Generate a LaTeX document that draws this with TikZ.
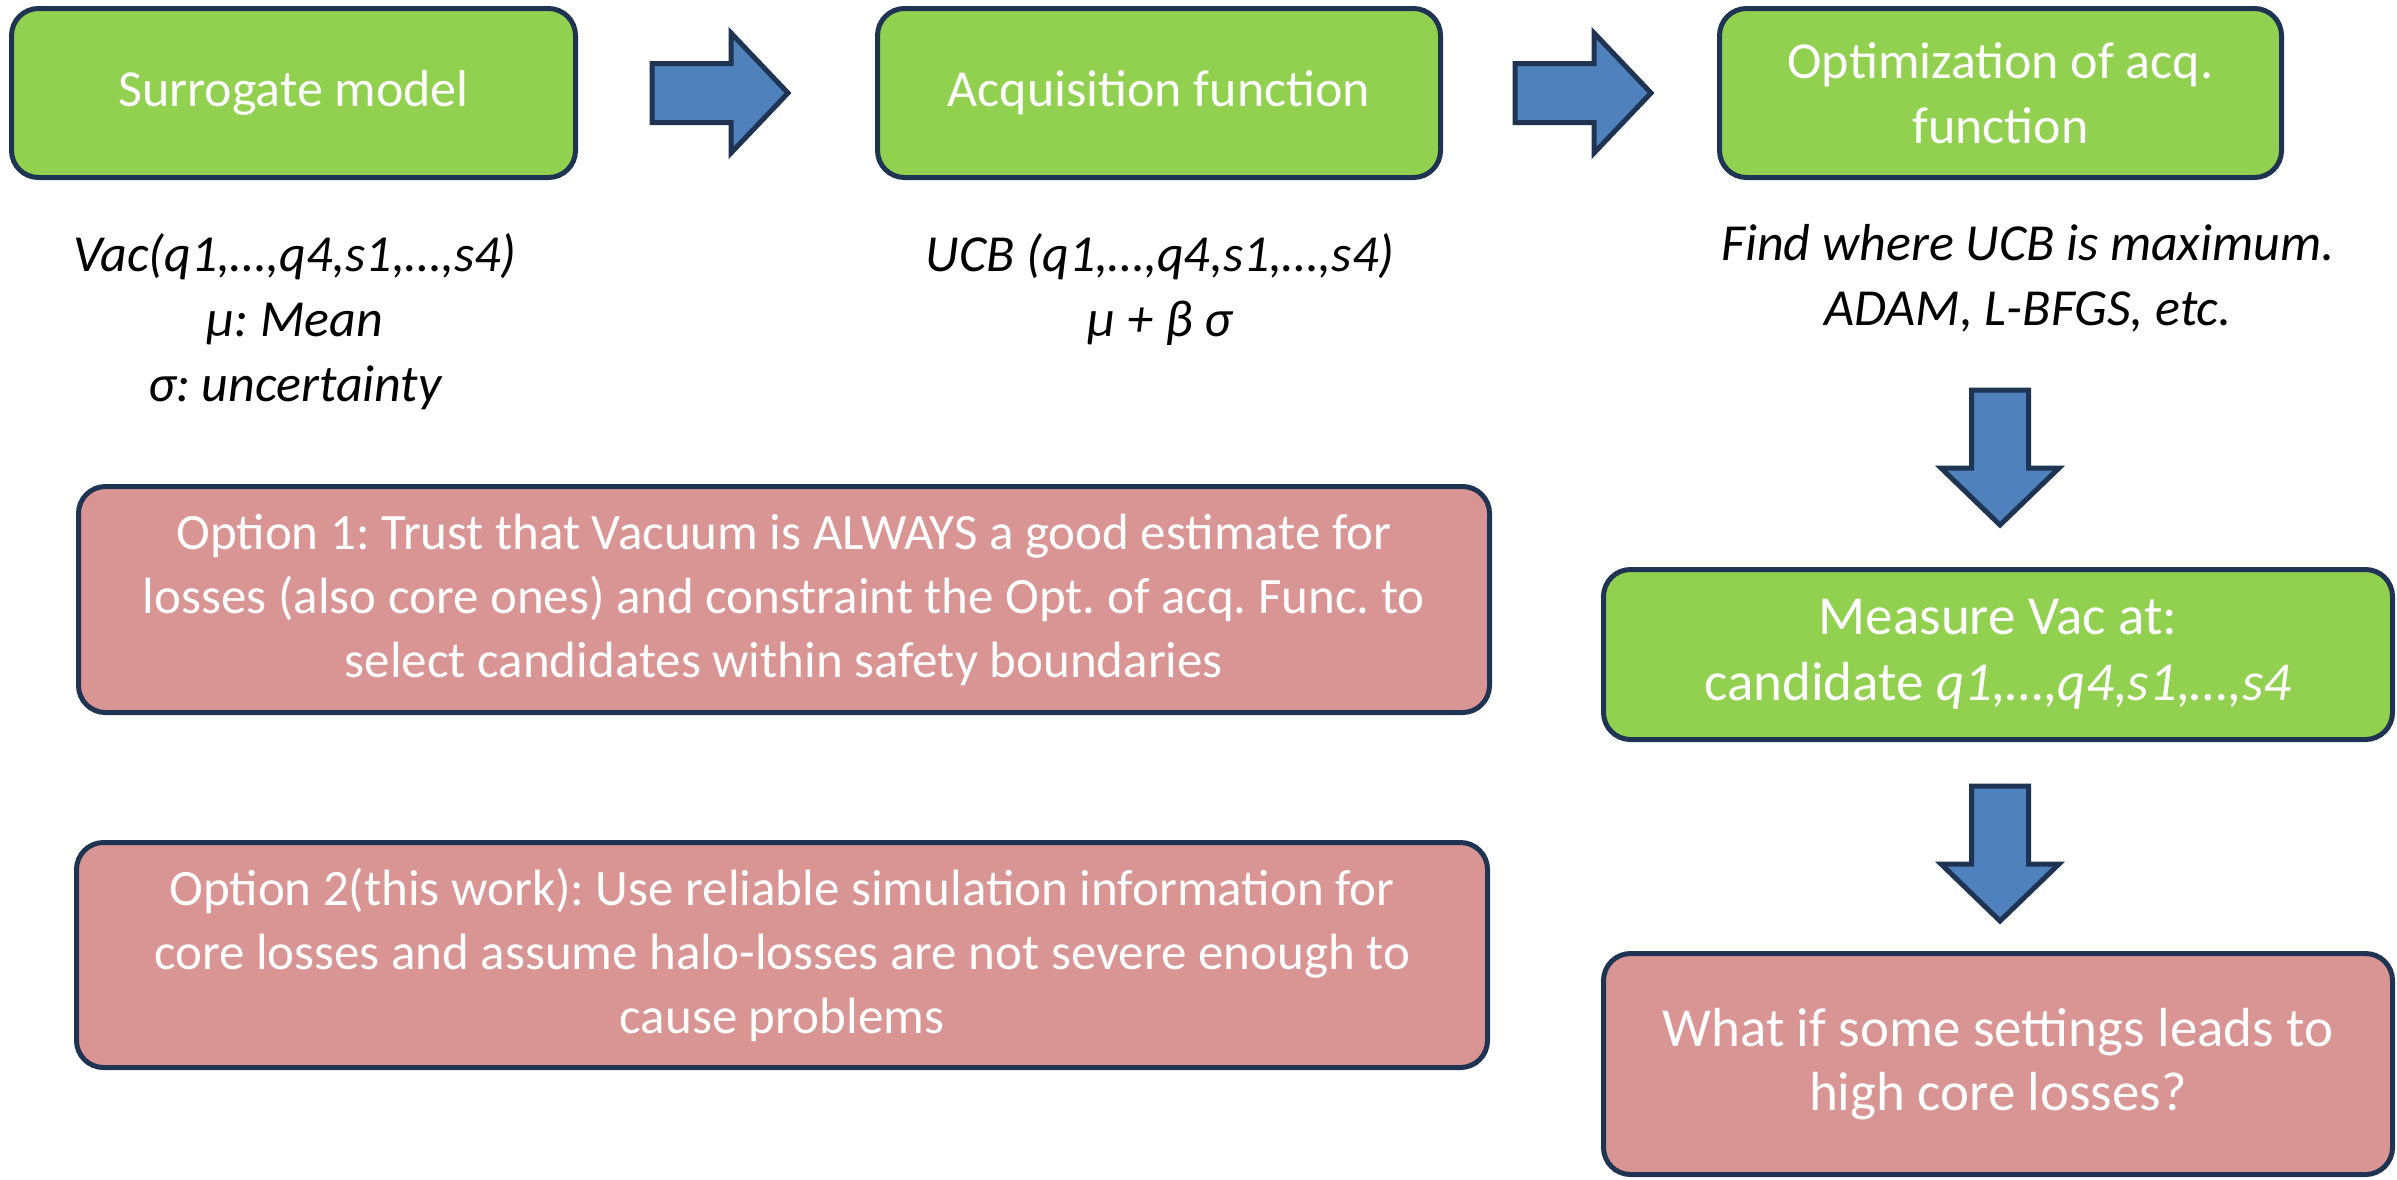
\documentclass[tikz,border=0pt]{standalone}
\usepackage{fontspec}
\setmainfont{Carlito}
\frenchspacing
\definecolor{boxgreen}{RGB}{146,208,80}
\definecolor{boxpink}{RGB}{217,149,148}
\definecolor{navy}{RGB}{30,52,82}
\definecolor{arrowblue}{RGB}{79,129,189}
\tikzset{
  basebox/.style={draw=navy, line width=5pt, rounded corners=27pt, text=white,
    align=center, inner sep=0pt, font=\fontsize{52}{65}\selectfont},
  greenbox/.style={basebox, fill=boxgreen},
  pinkbox/.style={basebox, fill=boxpink},
  caption/.style={align=center, inner sep=0pt, font=\fontsize{52}{65}\selectfont\itshape},
  blockarrow/.style={draw=navy, line width=5pt, fill=arrowblue, line join=miter},
  pics/rarrow/.style={code={\draw[blockarrow] (0,-29.5) -- (79,-29.5) -- (79,-60) -- (136,0) -- (79,60) -- (79,29.5) -- (0,29.5) -- cycle;}},
  pics/darrow/.style={code={\draw[blockarrow] (-28.5,0) -- (28.5,0) -- (28.5,78) -- (59,78) -- (0,135) -- (-59,78) -- (-28.5,78) -- cycle;}}
}
\begin{document}
\begin{tikzpicture}[x=1pt,y=-1pt]
\useasboundingbox (0,0) rectangle (2397,1179);
% top row
\node[greenbox, minimum width=564pt, minimum height=169pt] (sur) at (293.5,93) {Surrogate model};
\node[greenbox, minimum width=563pt, minimum height=169pt] (acq) at (1159,93) {Acquisition function};
\node[greenbox, minimum width=562pt, minimum height=169pt] (opt) at (2000.5,93) {Optimization of acq.\\function};
% captions
\node[caption] (surcap) at (295,322) {Vac(q1,…,q4,s1,…,s4)\\μ: Mean\\σ: uncertainty};
\node[caption] (acqcap) at (1160,290) {UCB (q1,…,q4,s1,…,s4)\\μ + β σ};
\node[caption] (optcap) at (2028,278) {Find where UCB is maximum.\\ADAM, L-BFGS, etc.};
% right column
\node[greenbox, minimum width=789pt, minimum height=170pt, font=\fontsize{55}{66}\selectfont] (meas) at (1998,654.5) {Measure Vac at:\\candidate \textit{q1,…,q4,s1,…,s4}};
\node[pinkbox, minimum width=789pt, minimum height=221pt, font=\fontsize{55}{64}\selectfont] (whatif) at (1998,1064) {What if some settings leads to\\high core losses?};
% options
\node[pinkbox, minimum width=1411pt, minimum height=226pt, font=\fontsize{51}{64}\selectfont] (opt1) at (784,599.5) {Option 1: Trust that Vacuum is ALWAYS a good estimate for\\losses (also core ones) and constraint the Opt. of acq. Func. to\\select candidates within safety boundaries};
\node[pinkbox, minimum width=1411pt, minimum height=225pt, font=\fontsize{51}{64}\selectfont] (opt2) at (782,955) {Option 2(this work): Use reliable simulation information for\\core losses and assume halo-losses are not severe enough to\\cause problems};
% block arrows
\pic at (652,93) {rarrow};
\pic at (1515,93) {rarrow};
\pic at (2000,390) {darrow};
\pic at (2000,786) {darrow};
\end{tikzpicture}
\end{document}
